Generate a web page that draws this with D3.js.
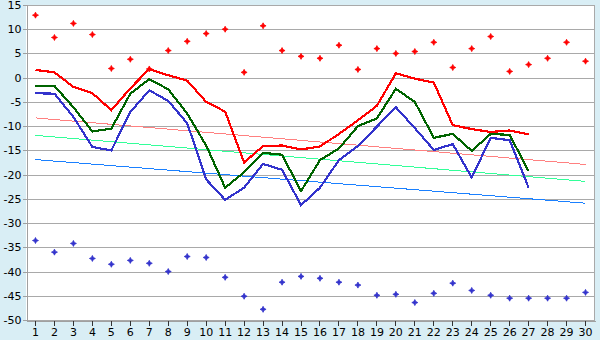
<!DOCTYPE html>
<html>
<head>
<meta charset="utf-8">
<script src="https://cdn.jsdelivr.net/npm/d3@7/dist/d3.min.js"></script>
<style>
  html, body { margin: 0; padding: 0; background: #d9eef5; }
  svg { display: block; font-family: "DejaVu Sans", Verdana, sans-serif; }
</style>
</head>
<body>
<svg id="chart" width="600" height="340"></svg>
<script>
// Day numbers along the bottom axis
const days = d3.range(1, 31);

// Y axis tick values
const yTicks = [-50, -45, -40, -35, -30, -25, -20, -15, -10, -5, 0, 5, 10, 15];

// Daily maximum points (top scatter)
const highPoints = [12.9, 8.3, 11.2, 8.9, 1.9, 3.8, 1.8, 5.6, 7.5, 9.1,
                    10.0, 1.1, 10.7, 5.6, 4.4, 4.0, 6.7, 1.7, 6.0, 5.0,
                    5.4, 7.3, 2.1, 6.0, 8.5, 1.3, 2.7, 4.0, 7.3, 3.4];

// Daily minimum points (bottom scatter)
const lowPoints = [-33.6, -36.0, -34.2, -37.3, -38.5, -37.7, -38.3, -40.0, -36.9, -37.1,
                   -41.2, -45.1, -47.8, -42.2, -41.0, -41.4, -42.2, -42.8, -44.9, -44.7,
                   -46.4, -44.5, -42.4, -43.9, -44.9, -45.5, -45.5, -45.5, -45.5, -44.3];

// Line series (27 days each)
const redLine = [1.6, 1.1, -1.9, -3.2, -6.7, -2.2, 1.8, 0.5, -0.6, -5.0,
                 -7.0, -17.5, -14.1, -14.0, -14.8, -14.2, -11.6, -8.8, -5.8, 0.9,
                 -0.2, -1.0, -9.8, -10.6, -11.2, -10.9, -11.7];
const greenLine = [-1.7, -1.7, -6.1, -11.1, -10.5, -3.3, -0.3, -2.4, -7.4, -14.0,
                   -22.7, -19.5, -15.5, -15.9, -23.4, -17.0, -14.6, -10.0, -8.4, -2.3,
                   -5.0, -12.4, -11.6, -15.1, -11.6, -11.8, -19.3];
const blueLine = [-3.2, -3.3, -8.1, -14.3, -15.0, -7.1, -2.6, -4.8, -9.4, -21.0,
                  -25.2, -22.7, -17.8, -19.0, -26.3, -22.7, -17.0, -14.1, -10.1, -6.1,
                  -10.4, -14.9, -13.7, -20.6, -12.4, -12.9, -22.7];

// Trend lines: value at day 1 and day 30
const trendDays = [1, 30];
const redTrend = [-8.3, -17.9];
const greenTrend = [-11.9, -21.4];
const blueTrend = [-16.9, -25.9];

const svg = d3.select("#chart");
const W = 600, H = 340;
const plotLeft = 26, plotRight = 595, plotTop = 5, plotBottom = 320;

svg.append("rect").attr("width", W).attr("height", H).attr("fill", "#d9eef5");
svg.append("rect")
  .attr("x", plotLeft).attr("y", plotTop)
  .attr("width", plotRight - plotLeft).attr("height", plotBottom - plotTop)
  .attr("fill", "#ffffff");

const x = d3.scaleBand().domain(days).range([plotLeft, plotRight]).padding(0);
const cx = d => x(d) + x.bandwidth() / 2;
const y = d3.scaleLinear().domain([-50, 15]).range([plotBottom, plotTop]);

// Horizontal gridlines
svg.append("g")
  .selectAll("line")
  .data(yTicks)
  .join("line")
  .attr("x1", plotLeft).attr("x2", plotRight)
  .attr("y1", d => Math.round(y(d)) + 0.5).attr("y2", d => Math.round(y(d)) + 0.5)
  .attr("stroke", "#a9a9a9").attr("stroke-width", 1)
  .attr("shape-rendering", "crispEdges");

// Plot frame (top and right)
svg.append("path")
  .attr("d", `M${plotLeft},${plotTop + 0.5}H${plotRight - 0.5}V${plotBottom}`)
  .attr("fill", "none").attr("stroke", "#a9a9a9")
  .attr("shape-rendering", "crispEdges");

// Y axis
const yAxis = svg.append("g")
  .attr("transform", `translate(${plotLeft + 0.5},0)`)
  .call(d3.axisLeft(y).tickValues(yTicks).tickSize(4).tickPadding(1)
    .tickFormat(d => String(d)));
yAxis.select(".domain").attr("stroke", "#a0a0a0");
yAxis.selectAll(".tick line").attr("stroke", "#a0a0a0");
yAxis.selectAll("text").attr("font-size", 11).attr("fill", "#000");
yAxis.attr("font-family", null).attr("shape-rendering", "crispEdges");

// X axis
const xAxis = svg.append("g")
  .attr("transform", `translate(0,${plotBottom + 0.5})`)
  .call(d3.axisBottom(x).tickSize(5).tickPadding(3).tickSizeOuter(0));
xAxis.select(".domain").attr("stroke", "#a0a0a0");
xAxis.selectAll(".tick line").attr("stroke", "#333");
xAxis.selectAll("text").attr("font-size", 11).attr("fill", "#000");
xAxis.attr("font-family", null).attr("shape-rendering", "crispEdges");

// Trend lines
const trendLine = d3.line().x((d, i) => cx(trendDays[i])).y(d => y(d));
[[redTrend, "#ff8080"], [greenTrend, "#33ff99"], [blueTrend, "#1a80ff"]].forEach(([vals, col]) => {
  svg.append("path")
    .attr("d", trendLine(vals))
    .attr("fill", "none").attr("stroke", col).attr("stroke-width", 1)
    .attr("shape-rendering", "crispEdges");
});

// Series lines
const seriesLine = d3.line().x((d, i) => cx(days[i])).y(d => y(d));
[[redLine, "#ff0000"], [greenLine, "#006400"], [blueLine, "#3333cc"]].forEach(([vals, col]) => {
  svg.append("path")
    .attr("d", seriesLine(vals))
    .attr("fill", "none").attr("stroke", col).attr("stroke-width", 2.2)
    .attr("stroke-linejoin", "miter")
    .attr("shape-rendering", "crispEdges");
});

// Scatter markers
const marker = "M0,-3L1,-1L3,0L1,1L0,3L-1,1L-3,0L-1,-1Z";
[[highPoints, "#ff0000"], [lowPoints, "#3333cc"]].forEach(([vals, col]) => {
  svg.append("g")
    .selectAll("path")
    .data(vals)
    .join("path")
    .attr("transform", (d, i) => `translate(${cx(days[i])},${y(d)})`)
    .attr("d", marker)
    .attr("fill", col).attr("stroke", col).attr("stroke-width", 0.8);
});
</script>
</body>
</html>
